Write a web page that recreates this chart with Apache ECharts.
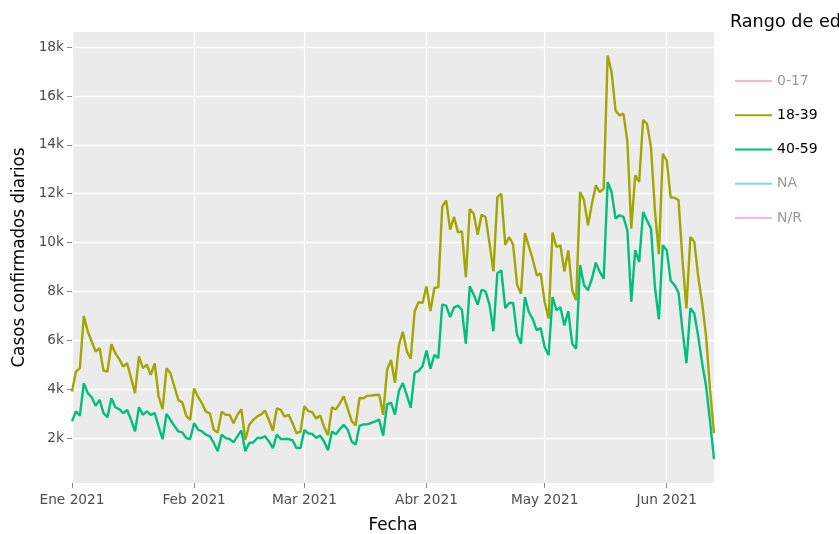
<!DOCTYPE html>
<html>
<head>
<meta charset="utf-8">
<script src="https://cdn.jsdelivr.net/npm/echarts@6/dist/echarts.min.js"></script>
<style>
  html, body { margin: 0; padding: 0; background: #fff; }
  #chart { width: 839px; height: 534px; }
</style>
</head>
<body>
<div id="chart"></div>
<script>
// Casos confirmados diarios por rango de edad, 1 ene - 13 jun 2021.
const FONT = "'DejaVu Sans', Verdana, sans-serif"

// one point per day starting 2021-01-01
const startDate = Date.UTC(2021, 0, 1)
const nDays = 164
const fechas = []
for (let i = 0; i < nDays; i++) {
  fechas.push(new Date(startDate + i * 86400000).toISOString().slice(0, 10))
}

const mesesInicio = ["2021-01-01", "2021-02-01", "2021-03-01", "2021-04-01", "2021-05-01", "2021-06-01"]
const etiquetasMes = ["Ene 2021", "Feb 2021", "Mar 2021", "Abr 2021", "May 2021", "Jun 2021"]
const yTicks = [2000, 4000, 6000, 8000, 10000, 12000, 14000, 16000, 18000]

const rangos = ["0-17", "18-39", "40-59", "NA", "N/R"]
const colores = ["#F8766D", "#A3A500", "#00BF7D", "#00B0F6", "#E76BF3"]
// 0-17, NA and N/R are hidden in the original (legend only)
const ocultos = ["0-17", "NA", "N/R"]

const casos18a39 = [
  3900, 4720, 4860, 6990, 6360, 5950, 5540, 5680, 4760, 4720,
  5840, 5470, 5230, 4930, 5060, 4450, 3840, 5340, 4860, 5000,
  4590, 5060, 3700, 3180, 4860, 4650, 4100, 3560, 3460, 2910,
  2740, 4030, 3690, 3420, 3080, 3010, 2340, 2230, 3080, 2950,
  2950, 2610, 2950, 3180, 1930, 2540, 2740, 2880, 2970, 3120,
  2740, 2300, 3220, 3150, 2880, 2950, 2610, 2200, 2260, 3300,
  3100, 3060, 2800, 2930, 2450, 2120, 3260, 3170, 3420, 3710,
  3200, 2700, 2520, 3640, 3630, 3730, 3740, 3760, 3770, 2950,
  4800, 5200, 4260, 5790, 6350, 5550, 5250, 7190, 7560, 7530,
  8210, 7200, 8140, 8180, 11480, 11730, 10530, 11050, 10420, 10460,
  8580, 11370, 11180, 10320, 11140, 11050, 9980, 8820, 11860, 12000,
  9910, 10230, 9910, 8280, 7910, 10390, 9840, 9300, 8660, 8730,
  7570, 6890, 10410, 9820, 9890, 8820, 9680, 8050, 7640, 12070,
  11730, 10710, 11590, 12340, 12070, 12210, 17660, 16980, 15410, 15210,
  15280, 14150, 10570, 12750, 12480, 15020, 14860, 13900, 11320, 9520,
  13630, 13360, 11840, 11840, 11730, 9280, 7310, 10230, 10030, 8600,
  7510, 6150, 3970, 2200
]

const casos40a59 = [
  2680, 3090, 2910, 4250, 3840, 3670, 3320, 3560, 3020, 2850,
  3630, 3260, 3180, 3020, 3150, 2740, 2270, 3260, 2950, 3090,
  2950, 3020, 2470, 1950, 2990, 2740, 2500, 2270, 2230, 2000,
  1960, 2610, 2340, 2270, 2140, 2070, 1800, 1460, 2140, 2000,
  1960, 1820, 2070, 2310, 1460, 1800, 1820, 2000, 2000, 2070,
  1860, 1590, 2140, 1960, 1960, 1960, 1910, 1590, 1590, 2330,
  2190, 2170, 2000, 2100, 1860, 1500, 2270, 2150, 2370, 2540,
  2340, 1860, 1730, 2500, 2560, 2560, 2620, 2680, 2750, 2100,
  3380, 3450, 2960, 3930, 4250, 3760, 3240, 4680, 4750, 4940,
  5580, 4840, 5400, 5270, 7460, 7420, 6950, 7350, 7420, 7250,
  5860, 8210, 7870, 7460, 8070, 8000, 7460, 6370, 8750, 8860,
  7320, 7530, 7530, 6230, 5860, 7770, 7150, 6870, 6410, 6500,
  5730, 5390, 7770, 7230, 7360, 6610, 7190, 5860, 5660, 9070,
  8250, 8050, 8520, 9180, 8800, 8520, 12480, 12070, 10980, 11120,
  11050, 10500, 7580, 9690, 9210, 11250, 10910, 10570, 8190, 6860,
  9890, 9690, 8440, 8260, 7950, 6420, 5060, 7310, 7100, 6150,
  5060, 4110, 2680, 1140
]

const valores = {"18-39": casos18a39, "40-59": casos40a59}

const esInicioMes = (idx, value) => mesesInicio.includes(value)

const option = {
  animation: false,
  textStyle: {fontFamily: FONT},
  title: {
    text: "Rango de edad",
    left: 725,
    top: 8,
    textStyle: {fontFamily: FONT, fontSize: 17.6, fontWeight: "normal", color: "#000"},
  },
  legend: {
    orient: "vertical",
    left: 730,
    top: 66,
    itemWidth: 37,
    itemHeight: 2,
    itemGap: 14.25,
    icon: "rect",
    selectedMode: false,
    textStyle: {fontFamily: FONT, fontSize: 14, color: "#000", lineHeight: 20},
    data: rangos.map((r) =>
      ocultos.includes(r)
        ? {name: r, itemStyle: {opacity: 0.5}, textStyle: {color: "#999"}}
        : {name: r}
    ),
  },
  grid: {
    left: 72,
    right: 125,
    top: 32,
    bottom: 51,
    outerBoundsMode: "none",
    show: true,
    backgroundColor: "#EBEBEB",
    borderWidth: 0,
  },
  xAxis: {
    type: "category",
    data: fechas,
    boundaryGap: false,
    axisLine: {show: false},
    axisTick: {show: true, interval: esInicioMes, length: 5, lineStyle: {color: "#888", width: 1}},
    axisLabel: {
      interval: esInicioMes,
      formatter: (v) => etiquetasMes[mesesInicio.indexOf(v)],
      color: "#4D4D4D",
      fontSize: 13.7,
      margin: 10,
      fontFamily: FONT,
    },
    splitLine: {show: true, interval: esInicioMes, lineStyle: {color: "#fff", width: 1.3}},
    name: "Fecha",
    nameLocation: "middle",
    nameGap: 34,
    nameTextStyle: {fontFamily: FONT, fontSize: 16.8, color: "#000"},
  },
  yAxis: {
    type: "value",
    min: 160,
    max: 18620,
    axisLine: {show: false},
    axisTick: {show: true, customValues: yTicks, length: 5, lineStyle: {color: "#888", width: 1}},
    axisLabel: {
      customValues: yTicks,
      formatter: (v) => v / 1000 + "k",
      color: "#4D4D4D",
      fontSize: 13.7,
      margin: 8,
      fontFamily: FONT,
    },
    splitLine: {show: true, lineStyle: {color: "#fff", width: 1.3}},
    name: "Casos confirmados diarios",
    nameLocation: "middle",
    nameGap: 38,
    nameTextStyle: {fontFamily: FONT, fontSize: 16.8, color: "#000"},
  },
  series: rangos.map((r, i) => ({
    name: r,
    type: "line",
    data: valores[r] || [],
    symbol: "none",
    color: colores[i],
    lineStyle: {width: 2.4, color: colores[i]},
  })),
}

const chart = echarts.init(document.getElementById("chart"))
chart.setOption(option)
</script>
</body>
</html>
